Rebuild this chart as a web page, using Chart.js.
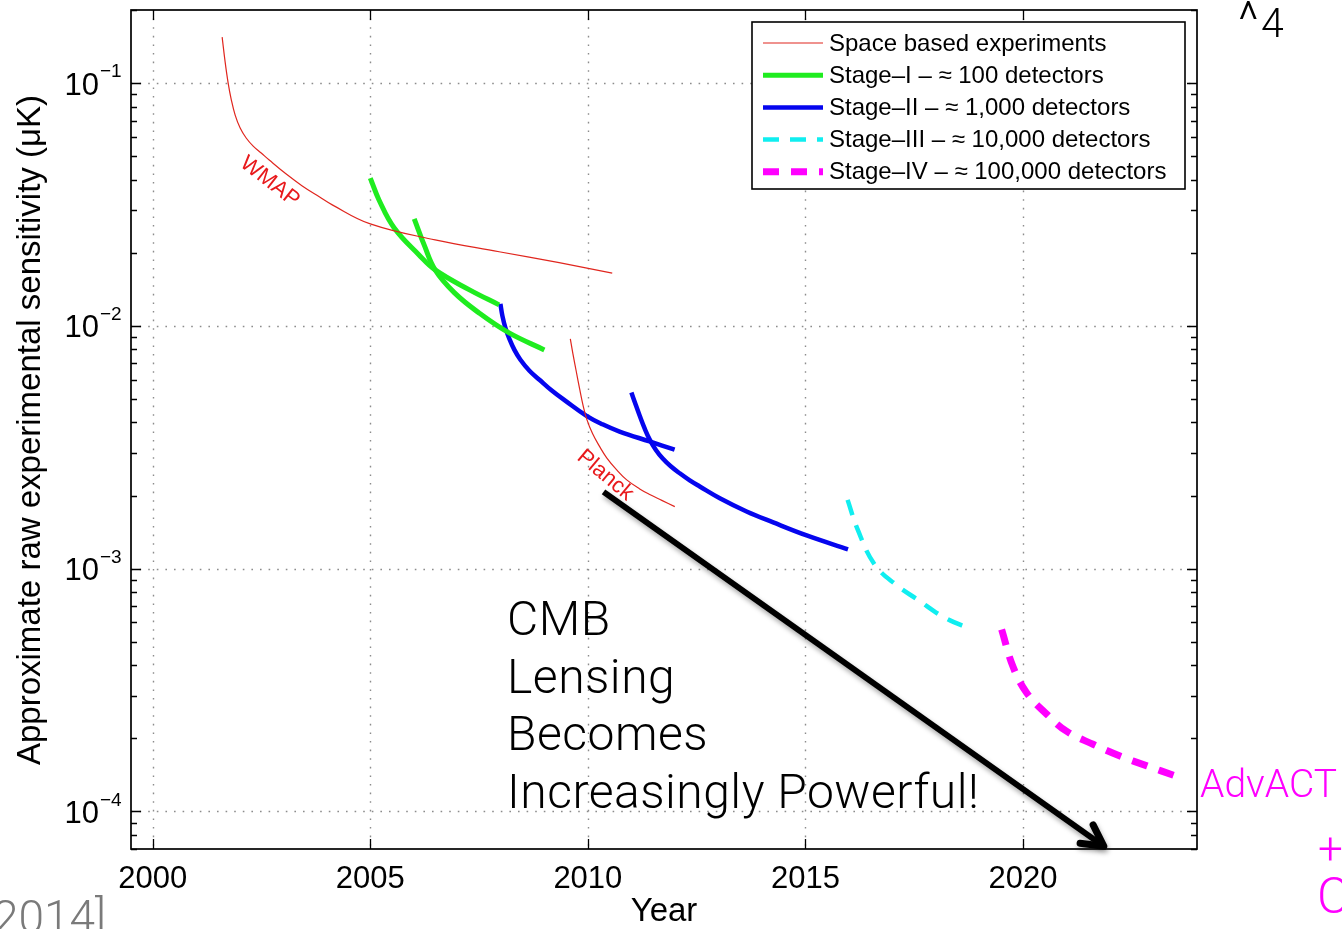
<!DOCTYPE html>
<html>
<head>
<meta charset="utf-8">
<script src="https://cdn.jsdelivr.net/npm/chart.js@4.4.1/dist/chart.umd.min.js"></script>
<style>
  html, body { margin: 0; padding: 0; background: #fff; }
  canvas { display: block; }
</style>
</head>
<body>
<canvas id="chart" width="1342" height="929"></canvas>
<script>
// ---- Sensitivity curves (year, raw sensitivity in μK) ----
const wmapYear = [2001.595, 2001.664, 2001.733, 2001.802, 2001.894, 2002.009, 2002.147, 2002.308, 2002.493, 2002.677,
                  2003.068, 2003.436, 2003.827, 2004.126, 2005.00, 2006.49, 2007.96, 2009.34, 2010.56];
const wmapSens = [0.1546, 0.1220, 0.1000, 0.0859, 0.0738, 0.0653, 0.0594, 0.0550, 0.0515, 0.0482,
                  0.0422, 0.0377, 0.0340, 0.0315, 0.0263, 0.0226, 0.0202, 0.0182, 0.0165];

const planckYear = [2009.597, 2009.657, 2009.735, 2009.811, 2009.887, 2009.972, 2010.110, 2010.271,
                    2010.433, 2010.663, 2010.893, 2011.192, 2011.422, 2011.699, 2011.998];
const planckSens = [0.00884, 0.00767, 0.00647, 0.00550, 0.00473, 0.00414, 0.00359, 0.00318,
                    0.00286, 0.00255, 0.00232, 0.00213, 0.00202, 0.00191, 0.00180];

const stage1aYear = [2005.00, 2005.20, 2005.55, 2006.12, 2006.49, 2007.27, 2007.96];
const stage1aSens = [0.0406, 0.0330, 0.0253, 0.0196, 0.0170, 0.0141, 0.0122];

const stage1bYear = [2006.01, 2006.24, 2006.49, 2006.93, 2007.50, 2008.19, 2009.00];
const stage1bSens = [0.0276, 0.0215, 0.0170, 0.0137, 0.0113, 0.00935, 0.00796];

const stage2aYear = [2007.990, 2008.036, 2008.105, 2008.197, 2008.312, 2008.450, 2008.657, 2008.887,
                     2009.163, 2009.486, 2009.969, 2010.337, 2010.729, 2011.419, 2011.994];
const stage2aSens = [0.01232, 0.01099, 0.00981, 0.00884, 0.00796, 0.00725, 0.00653, 0.00600,
                     0.00543, 0.00491, 0.00426, 0.00393, 0.00367, 0.00334, 0.00309];

const stage2bYear = [2011.001, 2011.100, 2011.192, 2011.307, 2011.422, 2011.560, 2011.721, 2011.905,
                     2012.112, 2012.342, 2012.572, 2013.033, 2013.648, 2014.260, 2015.029, 2015.979];
const stage2bSens = [0.00531, 0.00473, 0.00426, 0.00377, 0.00340, 0.00309, 0.00284, 0.00264,
                     0.00247, 0.00231, 0.00218, 0.00195, 0.00172, 0.00155, 0.00137, 0.00120];

const stage3Year = [2015.97, 2016.20, 2016.59, 2017.08, 2017.58, 2018.20, 2018.83];
const stage3Sens = [0.00192, 0.00145, 0.00104, 0.000859, 0.000745, 0.000628, 0.000561];

const stage4Year = [2019.51, 2019.77, 2020.08, 2020.55, 2021.00, 2021.61, 2022.23, 2022.85, 2023.50];
const stage4Sens = [0.000561, 0.000395, 0.000309, 0.000251, 0.000214, 0.000189, 0.000169, 0.000154, 0.000140];

// ---- Axes ----
const xTickValues = [2000, 2005, 2010, 2015, 2020];
const yTickValues = [1e-4, 1e-3, 1e-2, 1e-1];
const yTickExponents = ['\u22124', '\u22123', '\u22122', '\u22121'];
const xLimits = [1999.5, 2024];
const yLimits = [7e-5, 0.2];

const legendLabels = [
  'Space based experiments',
  'Stage\u2013I \u2013 \u2248 100 detectors',
  'Stage\u2013II \u2013 \u2248 1,000 detectors',
  'Stage\u2013III \u2013 \u2248 10,000 detectors',
  'Stage\u2013IV \u2013 \u2248 100,000 detectors'
];

const RED = '#e0261e', GREEN = '#1fec1f', BLUE = '#0505ee', CYAN = '#10eef0', MAGENTA = '#ff00ff';
const AXIS_FONT = '"Liberation Sans", Arial, Helvetica, sans-serif';
const SLIDE_FONT = 'Roboto, Lato, "Open Sans", sans-serif';

function pts(xs, ys) { return xs.map((x, i) => ({ x: x, y: ys[i] })); }

function curve(label, group, xs, ys, color, width, dash) {
  return {
    label: label, group: group, data: pts(xs, ys),
    borderColor: color, backgroundColor: color, borderWidth: width,
    borderDash: dash || [], borderCapStyle: 'butt', borderJoinStyle: 'round',
    pointRadius: 0, pointHoverRadius: 0, fill: false,
    tension: 0.4
  };
}

const datasets = [
  curve('WMAP', 0, wmapYear, wmapSens, RED, 1.2),
  curve('Planck', 0, planckYear, planckSens, RED, 1.2),
  curve('Stage-I a', 1, stage1aYear, stage1aSens, GREEN, 5),
  curve('Stage-I b', 1, stage1bYear, stage1bSens, GREEN, 5),
  curve('Stage-II a', 2, stage2aYear, stage2aSens, BLUE, 4.5),
  curve('Stage-II b', 2, stage2bYear, stage2bSens, BLUE, 4.5),
  curve('Stage-III', 3, stage3Year, stage3Sens, CYAN, 4.5, [16, 11]),
  curve('Stage-IV', 4, stage4Year, stage4Sens, MAGENTA, 7, [16, 12])
];

// Grid, frame, ticks, tick labels, legend and annotations
const decorations = {
  id: 'decorations',
  beforeDatasetsDraw(chart) {
    const { ctx, chartArea: a, scales: { x, y } } = chart;
    ctx.save();
    ctx.strokeStyle = '#8c8c8c';
    ctx.lineWidth = 1.4;
    ctx.setLineDash([1.6, 7]);
    xTickValues.forEach(v => {
      const px = Math.round(x.getPixelForValue(v)) + 0.5;
      ctx.beginPath(); ctx.moveTo(px, a.top); ctx.lineTo(px, a.bottom); ctx.stroke();
    });
    yTickValues.forEach(v => {
      const py = Math.round(y.getPixelForValue(v)) + 0.5;
      ctx.beginPath(); ctx.moveTo(a.left, py); ctx.lineTo(a.right, py); ctx.stroke();
    });
    ctx.restore();
  },
  afterDatasetsDraw(chart) {
    const { ctx, chartArea: a, scales: { x, y } } = chart;
    ctx.save();
    // frame
    ctx.strokeStyle = '#000';
    ctx.lineWidth = 1.7;
    ctx.strokeRect(a.left, a.top, a.right - a.left, a.bottom - a.top);
    // major ticks pointing inward
    ctx.lineWidth = 1.3;
    ctx.beginPath();
    xTickValues.forEach(v => {
      const px = Math.round(x.getPixelForValue(v)) + 0.5;
      ctx.moveTo(px, a.bottom); ctx.lineTo(px, a.bottom - 10);
      ctx.moveTo(px, a.top); ctx.lineTo(px, a.top + 10);
    });
    yTickValues.forEach(v => {
      const py = Math.round(y.getPixelForValue(v)) + 0.5;
      ctx.moveTo(a.left, py); ctx.lineTo(a.left + 10, py);
      ctx.moveTo(a.right, py); ctx.lineTo(a.right - 10, py);
    });
    // minor log ticks
    for (let e = -5; e <= -1; e++) {
      for (let m = 2; m <= 9; m++) {
        const v = m * Math.pow(10, e);
        if (v < yLimits[0] || v > yLimits[1]) continue;
        const py = Math.round(y.getPixelForValue(v)) + 0.5;
        ctx.moveTo(a.left, py); ctx.lineTo(a.left + 6, py);
        ctx.moveTo(a.right, py); ctx.lineTo(a.right - 6, py);
      }
    }
    ctx.stroke();

    // tick labels
    ctx.fillStyle = '#000';
    ctx.font = '31px ' + AXIS_FONT;
    ctx.textAlign = 'center';
    ctx.textBaseline = 'middle';
    xTickValues.forEach(v => ctx.fillText(String(v), x.getPixelForValue(v), a.bottom + 30));
    yTickValues.forEach((v, i) => {
      const py = y.getPixelForValue(v);
      ctx.font = '31px ' + AXIS_FONT;
      ctx.textAlign = 'right';
      ctx.fillText('10', 99, py + 3);
      ctx.font = '19px ' + AXIS_FONT;
      ctx.textAlign = 'left';
      ctx.fillText(yTickExponents[i], 100, py - 11);
    });

    // axis titles
    ctx.font = '33px ' + AXIS_FONT;
    ctx.textAlign = 'center';
    ctx.fillText('Year', (a.left + a.right) / 2, 912);
    ctx.save();
    ctx.translate(31, 430);
    ctx.rotate(-Math.PI / 2);
    ctx.font = '33px ' + AXIS_FONT;
    ctx.fillText('Approximate raw experimental sensitivity (\u03bcK)', 0, 0);
    ctx.restore();

    // legend
    const lx = 752, ly = 22, lw = 433, lh = 167;
    ctx.fillStyle = '#fff';
    ctx.fillRect(lx, ly, lw, lh);
    ctx.strokeStyle = '#000';
    ctx.lineWidth = 1.6;
    ctx.strokeRect(lx, ly, lw, lh);
    ctx.font = '24px ' + AXIS_FONT;
    ctx.textAlign = 'left';
    ctx.textBaseline = 'middle';
    legendLabels.forEach((label, g) => {
      const ds = chart.data.datasets.find(d => d.group === g);
      const ry = ly + 21 + g * 32.2;
      ctx.save();
      ctx.strokeStyle = ds.borderColor;
      ctx.lineWidth = ds.borderWidth;
      ctx.setLineDash(ds.borderDash);
      ctx.beginPath(); ctx.moveTo(763, ry); ctx.lineTo(823, ry); ctx.stroke();
      ctx.restore();
      ctx.fillStyle = '#000';
      ctx.fillText(label, 829, ry + 1);
    });
    ctx.restore();
  },
  afterDraw(chart) {
    const { ctx, scales: { x, y } } = chart;
    ctx.save();
    // curve labels
    ctx.fillStyle = '#e8191c';
    ctx.font = '22px ' + AXIS_FONT;
    ctx.textAlign = 'center';
    ctx.textBaseline = 'middle';
    [['WMAP', 2002.69, 0.0392, 38], ['Planck', 2010.40, 0.00242, 40]].forEach(([t, xv, yv, deg]) => {
      ctx.save();
      ctx.translate(x.getPixelForValue(xv), y.getPixelForValue(yv));
      ctx.rotate(deg * Math.PI / 180);
      ctx.fillText(t, 0, 0);
      ctx.restore();
    });

    // arrow
    const x0 = x.getPixelForValue(2010.36), y0 = y.getPixelForValue(0.00207);
    const x1 = x.getPixelForValue(2021.86), y1 = y.getPixelForValue(7.18e-5);
    const ang = Math.atan2(y1 - y0, x1 - x0);
    ctx.save();
    ctx.shadowColor = 'rgba(0,0,0,0.35)';
    ctx.shadowBlur = 5;
    ctx.shadowOffsetX = 1;
    ctx.shadowOffsetY = 3;
    ctx.strokeStyle = '#000';
    ctx.lineWidth = 6;
    ctx.lineJoin = 'round';
    ctx.lineCap = 'butt';
    ctx.beginPath();
    ctx.moveTo(x0, y0);
    ctx.lineTo(x1 - 3 * Math.cos(ang), y1 - 3 * Math.sin(ang));
    ctx.stroke();
    ctx.lineCap = 'round';
    ctx.lineWidth = 7;
    const bl = 24, spread = 28 * Math.PI / 180;
    ctx.beginPath();
    ctx.moveTo(x1 - bl * Math.cos(ang - spread), y1 - bl * Math.sin(ang - spread));
    ctx.lineTo(x1, y1);
    ctx.lineTo(x1 - bl * Math.cos(ang + spread), y1 - bl * Math.sin(ang + spread));
    ctx.stroke();
    ctx.restore();

    // slide text
    ctx.textAlign = 'left';
    ctx.textBaseline = 'alphabetic';
    ctx.fillStyle = '#000';
    ctx.font = '300 48px ' + SLIDE_FONT;
    ctx.letterSpacing = '0.5px';
    ['CMB', 'Lensing', 'Becomes', 'Increasingly Powerful!'].forEach((t, i) => {
      ctx.fillText(t, 507, 635 + i * 57.5);
    });
    ctx.letterSpacing = '0px';

    ctx.fillStyle = MAGENTA;
    ctx.font = '300 39px ' + SLIDE_FONT;
    ctx.fillText('AdvACT', 1200, 797);
    ctx.font = '300 44px ' + SLIDE_FONT;
    ctx.fillText('+', 1318, 864);
    ctx.font = '300 50px ' + SLIDE_FONT;
    ctx.fillText('C', 1317, 913);

    ctx.fillStyle = '#7a7a7a';
    ctx.font = '300 46px ' + SLIDE_FONT;
    ctx.textAlign = 'right';
    ctx.fillText('[2014]', 106, 933);

    ctx.fillStyle = '#000';
    ctx.textAlign = 'left';
    ctx.font = '300 50px ' + SLIDE_FONT;
    ctx.fillText('^', 1238, 37);
    ctx.font = '300 41px ' + SLIDE_FONT;
    ctx.fillText('4', 1261, 37);
    ctx.restore();
  }
};

new Chart(document.getElementById('chart'), {
  type: 'line',
  data: { datasets: datasets },
  options: {
    responsive: false,
    devicePixelRatio: 1,
    animation: false,
    layout: { padding: { left: 131, top: 10, right: 145, bottom: 80 } },
    plugins: { legend: { display: false }, tooltip: { enabled: false } },
    scales: {
      x: { type: 'linear', display: false, min: xLimits[0], max: xLimits[1] },
      y: { type: 'logarithmic', display: false, min: yLimits[0], max: yLimits[1] }
    }
  },
  plugins: [decorations]
});
</script>
</body>
</html>
